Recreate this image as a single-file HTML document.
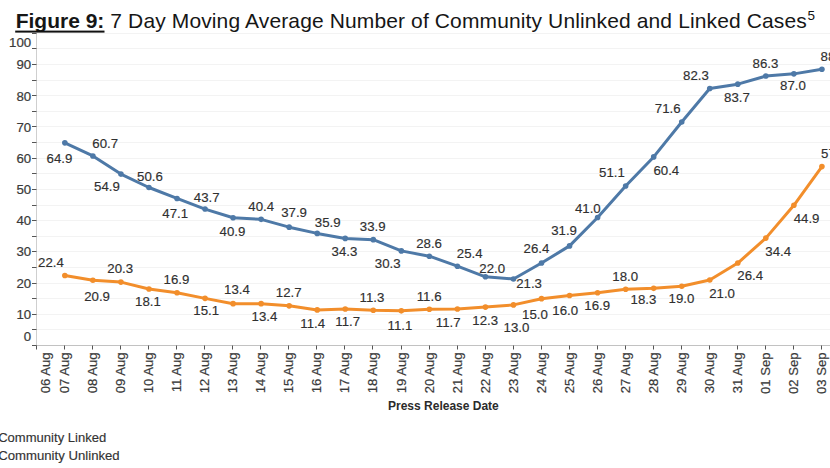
<!DOCTYPE html>
<html><head><meta charset="utf-8"><style>
html,body{margin:0;padding:0;background:#fff;overflow:hidden;}
svg{display:block;font-family:"Liberation Sans",sans-serif;}
.ax{font-size:12.5px;fill:#3a3a3a;stroke:#3a3a3a;stroke-width:0.2px;}
.dl{font-size:12.5px;fill:#303030;stroke:#303030;stroke-width:0.15px;}
.ti{font-size:21px;fill:#161616;}
.sup{font-size:13.5px;fill:#111;}
.at{font-size:12.5px;font-weight:bold;fill:#2b2b2b;}
.lg{font-size:12.5px;fill:#333;stroke:#333;stroke-width:0.15px;}
</style></head><body>
<svg width="830" height="468" viewBox="0 0 830 468">
<line x1="37" y1="329.5" x2="830" y2="329.5" stroke="#f3f3f3" stroke-width="1"/>
<line x1="37" y1="314.5" x2="830" y2="314.5" stroke="#f3f3f3" stroke-width="1"/>
<line x1="37" y1="298.5" x2="830" y2="298.5" stroke="#f3f3f3" stroke-width="1"/>
<line x1="37" y1="283.5" x2="830" y2="283.5" stroke="#f3f3f3" stroke-width="1"/>
<line x1="37" y1="267.5" x2="830" y2="267.5" stroke="#f3f3f3" stroke-width="1"/>
<line x1="37" y1="251.5" x2="830" y2="251.5" stroke="#f3f3f3" stroke-width="1"/>
<line x1="37" y1="236.5" x2="830" y2="236.5" stroke="#f3f3f3" stroke-width="1"/>
<line x1="37" y1="220.5" x2="830" y2="220.5" stroke="#f3f3f3" stroke-width="1"/>
<line x1="37" y1="205.5" x2="830" y2="205.5" stroke="#f3f3f3" stroke-width="1"/>
<line x1="37" y1="189.5" x2="830" y2="189.5" stroke="#f3f3f3" stroke-width="1"/>
<line x1="37" y1="173.5" x2="830" y2="173.5" stroke="#f3f3f3" stroke-width="1"/>
<line x1="37" y1="158.5" x2="830" y2="158.5" stroke="#f3f3f3" stroke-width="1"/>
<line x1="37" y1="142.5" x2="830" y2="142.5" stroke="#f3f3f3" stroke-width="1"/>
<line x1="37" y1="126.5" x2="830" y2="126.5" stroke="#f3f3f3" stroke-width="1"/>
<line x1="37" y1="111.5" x2="830" y2="111.5" stroke="#f3f3f3" stroke-width="1"/>
<line x1="37" y1="95.5" x2="830" y2="95.5" stroke="#f3f3f3" stroke-width="1"/>
<line x1="37" y1="80.5" x2="830" y2="80.5" stroke="#f3f3f3" stroke-width="1"/>
<line x1="37" y1="64.5" x2="830" y2="64.5" stroke="#f3f3f3" stroke-width="1"/>
<line x1="37" y1="48.5" x2="830" y2="48.5" stroke="#f3f3f3" stroke-width="1"/>
<line x1="37" y1="33.5" x2="830" y2="33.5" stroke="#f3f3f3" stroke-width="1"/>
<line x1="36.5" y1="33" x2="36.5" y2="349" stroke="#cfcfcf" stroke-width="1"/>
<line x1="32" y1="345.5" x2="830" y2="345.5" stroke="#c2c2c2" stroke-width="1"/>
<line x1="32" y1="345.5" x2="36.5" y2="345.5" stroke="#555" stroke-width="1"/>
<line x1="32" y1="329.5" x2="36.5" y2="329.5" stroke="#555" stroke-width="1"/>
<line x1="32" y1="314.5" x2="36.5" y2="314.5" stroke="#555" stroke-width="1"/>
<line x1="32" y1="298.5" x2="36.5" y2="298.5" stroke="#555" stroke-width="1"/>
<line x1="32" y1="283.5" x2="36.5" y2="283.5" stroke="#555" stroke-width="1"/>
<line x1="32" y1="267.5" x2="36.5" y2="267.5" stroke="#555" stroke-width="1"/>
<line x1="32" y1="251.5" x2="36.5" y2="251.5" stroke="#555" stroke-width="1"/>
<line x1="32" y1="236.5" x2="36.5" y2="236.5" stroke="#555" stroke-width="1"/>
<line x1="32" y1="220.5" x2="36.5" y2="220.5" stroke="#555" stroke-width="1"/>
<line x1="32" y1="205.5" x2="36.5" y2="205.5" stroke="#555" stroke-width="1"/>
<line x1="32" y1="189.5" x2="36.5" y2="189.5" stroke="#555" stroke-width="1"/>
<line x1="32" y1="173.5" x2="36.5" y2="173.5" stroke="#555" stroke-width="1"/>
<line x1="32" y1="158.5" x2="36.5" y2="158.5" stroke="#555" stroke-width="1"/>
<line x1="32" y1="142.5" x2="36.5" y2="142.5" stroke="#555" stroke-width="1"/>
<line x1="32" y1="126.5" x2="36.5" y2="126.5" stroke="#555" stroke-width="1"/>
<line x1="32" y1="111.5" x2="36.5" y2="111.5" stroke="#555" stroke-width="1"/>
<line x1="32" y1="95.5" x2="36.5" y2="95.5" stroke="#555" stroke-width="1"/>
<line x1="32" y1="80.5" x2="36.5" y2="80.5" stroke="#555" stroke-width="1"/>
<line x1="32" y1="64.5" x2="36.5" y2="64.5" stroke="#555" stroke-width="1"/>
<line x1="32" y1="48.5" x2="36.5" y2="48.5" stroke="#555" stroke-width="1"/>
<line x1="32" y1="33.5" x2="36.5" y2="33.5" stroke="#555" stroke-width="1"/>
<text transform="translate(31.2,46.7) scale(1.06,1)" text-anchor="end" class="ax">100</text>
<text transform="translate(31.2,68.5) scale(1.06,1)" text-anchor="end" class="ax">90</text>
<text transform="translate(31.2,100.5) scale(1.06,1)" text-anchor="end" class="ax">80</text>
<text transform="translate(31.2,131.6) scale(1.06,1)" text-anchor="end" class="ax">70</text>
<text transform="translate(31.2,162.8) scale(1.06,1)" text-anchor="end" class="ax">60</text>
<text transform="translate(31.2,194.0) scale(1.06,1)" text-anchor="end" class="ax">50</text>
<text transform="translate(31.2,225.2) scale(1.06,1)" text-anchor="end" class="ax">40</text>
<text transform="translate(31.2,256.4) scale(1.06,1)" text-anchor="end" class="ax">30</text>
<text transform="translate(31.2,287.6) scale(1.06,1)" text-anchor="end" class="ax">20</text>
<text transform="translate(31.2,319.0) scale(1.06,1)" text-anchor="end" class="ax">10</text>
<text transform="translate(31.2,340.8) scale(1.06,1)" text-anchor="end" class="ax">0</text>
<line x1="36.5" y1="345.5" x2="36.5" y2="349.5" stroke="#555" stroke-width="1"/>
<text transform="translate(49.9,352.6) rotate(-90) scale(1.045,1)" text-anchor="end" class="ax">06 Aug</text>
<line x1="64.5" y1="345.5" x2="64.5" y2="349.5" stroke="#555" stroke-width="1"/>
<text transform="translate(69.1,352.6) rotate(-90) scale(1.045,1)" text-anchor="end" class="ax">07 Aug</text>
<line x1="92.5" y1="345.5" x2="92.5" y2="349.5" stroke="#555" stroke-width="1"/>
<text transform="translate(97.1,352.6) rotate(-90) scale(1.045,1)" text-anchor="end" class="ax">08 Aug</text>
<line x1="120.5" y1="345.5" x2="120.5" y2="349.5" stroke="#555" stroke-width="1"/>
<text transform="translate(125.1,352.6) rotate(-90) scale(1.045,1)" text-anchor="end" class="ax">09 Aug</text>
<line x1="148.5" y1="345.5" x2="148.5" y2="349.5" stroke="#555" stroke-width="1"/>
<text transform="translate(153.1,352.6) rotate(-90) scale(1.045,1)" text-anchor="end" class="ax">10 Aug</text>
<line x1="176.5" y1="345.5" x2="176.5" y2="349.5" stroke="#555" stroke-width="1"/>
<text transform="translate(181.1,352.6) rotate(-90) scale(1.045,1)" text-anchor="end" class="ax">11 Aug</text>
<line x1="204.5" y1="345.5" x2="204.5" y2="349.5" stroke="#555" stroke-width="1"/>
<text transform="translate(209.1,352.6) rotate(-90) scale(1.045,1)" text-anchor="end" class="ax">12 Aug</text>
<line x1="232.5" y1="345.5" x2="232.5" y2="349.5" stroke="#555" stroke-width="1"/>
<text transform="translate(237.1,352.6) rotate(-90) scale(1.045,1)" text-anchor="end" class="ax">13 Aug</text>
<line x1="260.5" y1="345.5" x2="260.5" y2="349.5" stroke="#555" stroke-width="1"/>
<text transform="translate(265.1,352.6) rotate(-90) scale(1.045,1)" text-anchor="end" class="ax">14 Aug</text>
<line x1="288.5" y1="345.5" x2="288.5" y2="349.5" stroke="#555" stroke-width="1"/>
<text transform="translate(293.1,352.6) rotate(-90) scale(1.045,1)" text-anchor="end" class="ax">15 Aug</text>
<line x1="316.5" y1="345.5" x2="316.5" y2="349.5" stroke="#555" stroke-width="1"/>
<text transform="translate(321.1,352.6) rotate(-90) scale(1.045,1)" text-anchor="end" class="ax">16 Aug</text>
<line x1="344.5" y1="345.5" x2="344.5" y2="349.5" stroke="#555" stroke-width="1"/>
<text transform="translate(349.1,352.6) rotate(-90) scale(1.045,1)" text-anchor="end" class="ax">17 Aug</text>
<line x1="372.5" y1="345.5" x2="372.5" y2="349.5" stroke="#555" stroke-width="1"/>
<text transform="translate(377.1,352.6) rotate(-90) scale(1.045,1)" text-anchor="end" class="ax">18 Aug</text>
<line x1="401.5" y1="345.5" x2="401.5" y2="349.5" stroke="#555" stroke-width="1"/>
<text transform="translate(406.1,352.6) rotate(-90) scale(1.045,1)" text-anchor="end" class="ax">19 Aug</text>
<line x1="429.5" y1="345.5" x2="429.5" y2="349.5" stroke="#555" stroke-width="1"/>
<text transform="translate(434.1,352.6) rotate(-90) scale(1.045,1)" text-anchor="end" class="ax">20 Aug</text>
<line x1="457.5" y1="345.5" x2="457.5" y2="349.5" stroke="#555" stroke-width="1"/>
<text transform="translate(462.1,352.6) rotate(-90) scale(1.045,1)" text-anchor="end" class="ax">21 Aug</text>
<line x1="485.5" y1="345.5" x2="485.5" y2="349.5" stroke="#555" stroke-width="1"/>
<text transform="translate(490.1,352.6) rotate(-90) scale(1.045,1)" text-anchor="end" class="ax">22 Aug</text>
<line x1="513.5" y1="345.5" x2="513.5" y2="349.5" stroke="#555" stroke-width="1"/>
<text transform="translate(518.1,352.6) rotate(-90) scale(1.045,1)" text-anchor="end" class="ax">23 Aug</text>
<line x1="541.5" y1="345.5" x2="541.5" y2="349.5" stroke="#555" stroke-width="1"/>
<text transform="translate(546.1,352.6) rotate(-90) scale(1.045,1)" text-anchor="end" class="ax">24 Aug</text>
<line x1="569.5" y1="345.5" x2="569.5" y2="349.5" stroke="#555" stroke-width="1"/>
<text transform="translate(574.1,352.6) rotate(-90) scale(1.045,1)" text-anchor="end" class="ax">25 Aug</text>
<line x1="597.5" y1="345.5" x2="597.5" y2="349.5" stroke="#555" stroke-width="1"/>
<text transform="translate(602.1,352.6) rotate(-90) scale(1.045,1)" text-anchor="end" class="ax">26 Aug</text>
<line x1="625.5" y1="345.5" x2="625.5" y2="349.5" stroke="#555" stroke-width="1"/>
<text transform="translate(630.1,352.6) rotate(-90) scale(1.045,1)" text-anchor="end" class="ax">27 Aug</text>
<line x1="653.5" y1="345.5" x2="653.5" y2="349.5" stroke="#555" stroke-width="1"/>
<text transform="translate(658.1,352.6) rotate(-90) scale(1.045,1)" text-anchor="end" class="ax">28 Aug</text>
<line x1="681.5" y1="345.5" x2="681.5" y2="349.5" stroke="#555" stroke-width="1"/>
<text transform="translate(686.1,352.6) rotate(-90) scale(1.045,1)" text-anchor="end" class="ax">29 Aug</text>
<line x1="709.5" y1="345.5" x2="709.5" y2="349.5" stroke="#555" stroke-width="1"/>
<text transform="translate(714.1,352.6) rotate(-90) scale(1.045,1)" text-anchor="end" class="ax">30 Aug</text>
<line x1="737.5" y1="345.5" x2="737.5" y2="349.5" stroke="#555" stroke-width="1"/>
<text transform="translate(742.1,352.6) rotate(-90) scale(1.045,1)" text-anchor="end" class="ax">31 Aug</text>
<line x1="765.5" y1="345.5" x2="765.5" y2="349.5" stroke="#555" stroke-width="1"/>
<text transform="translate(770.1,352.6) rotate(-90) scale(1.045,1)" text-anchor="end" class="ax">01 Sep</text>
<line x1="793.5" y1="345.5" x2="793.5" y2="349.5" stroke="#555" stroke-width="1"/>
<text transform="translate(798.1,352.6) rotate(-90) scale(1.045,1)" text-anchor="end" class="ax">02 Sep</text>
<line x1="821.5" y1="345.5" x2="821.5" y2="349.5" stroke="#555" stroke-width="1"/>
<text transform="translate(826.1,352.6) rotate(-90) scale(1.045,1)" text-anchor="end" class="ax">03 Sep</text>
<polyline points="64.84,275.56 92.88,280.25 120.92,282.12 148.96,288.99 177.00,292.73 205.04,298.35 233.08,303.66 261.12,303.66 289.16,305.85 317.20,309.91 345.24,308.97 373.28,310.22 401.32,310.84 429.36,309.28 457.40,308.97 485.44,307.10 513.48,304.91 541.52,298.67 569.56,295.54 597.60,292.73 625.64,289.30 653.68,288.36 681.72,286.18 709.76,279.93 737.80,263.07 765.84,238.10 793.88,205.31 821.92,166.60" fill="none" stroke="#f28e2b" stroke-width="3" stroke-linejoin="round" stroke-linecap="round"/>
<circle cx="64.84" cy="275.56" r="2.8" fill="#f28e2b"/>
<circle cx="92.88" cy="280.25" r="2.8" fill="#f28e2b"/>
<circle cx="120.92" cy="282.12" r="2.8" fill="#f28e2b"/>
<circle cx="148.96" cy="288.99" r="2.8" fill="#f28e2b"/>
<circle cx="177.00" cy="292.73" r="2.8" fill="#f28e2b"/>
<circle cx="205.04" cy="298.35" r="2.8" fill="#f28e2b"/>
<circle cx="233.08" cy="303.66" r="2.8" fill="#f28e2b"/>
<circle cx="261.12" cy="303.66" r="2.8" fill="#f28e2b"/>
<circle cx="289.16" cy="305.85" r="2.8" fill="#f28e2b"/>
<circle cx="317.20" cy="309.91" r="2.8" fill="#f28e2b"/>
<circle cx="345.24" cy="308.97" r="2.8" fill="#f28e2b"/>
<circle cx="373.28" cy="310.22" r="2.8" fill="#f28e2b"/>
<circle cx="401.32" cy="310.84" r="2.8" fill="#f28e2b"/>
<circle cx="429.36" cy="309.28" r="2.8" fill="#f28e2b"/>
<circle cx="457.40" cy="308.97" r="2.8" fill="#f28e2b"/>
<circle cx="485.44" cy="307.10" r="2.8" fill="#f28e2b"/>
<circle cx="513.48" cy="304.91" r="2.8" fill="#f28e2b"/>
<circle cx="541.52" cy="298.67" r="2.8" fill="#f28e2b"/>
<circle cx="569.56" cy="295.54" r="2.8" fill="#f28e2b"/>
<circle cx="597.60" cy="292.73" r="2.8" fill="#f28e2b"/>
<circle cx="625.64" cy="289.30" r="2.8" fill="#f28e2b"/>
<circle cx="653.68" cy="288.36" r="2.8" fill="#f28e2b"/>
<circle cx="681.72" cy="286.18" r="2.8" fill="#f28e2b"/>
<circle cx="709.76" cy="279.93" r="2.8" fill="#f28e2b"/>
<circle cx="737.80" cy="263.07" r="2.8" fill="#f28e2b"/>
<circle cx="765.84" cy="238.10" r="2.8" fill="#f28e2b"/>
<circle cx="793.88" cy="205.31" r="2.8" fill="#f28e2b"/>
<circle cx="821.92" cy="166.60" r="2.8" fill="#f28e2b"/>
<polyline points="64.84,142.87 92.88,155.98 120.92,174.09 148.96,187.52 177.00,198.44 205.04,209.06 233.08,217.80 261.12,219.36 289.16,227.17 317.20,233.41 345.24,238.41 373.28,239.66 401.32,250.90 429.36,256.21 457.40,266.20 485.44,276.81 513.48,279.00 541.52,263.07 569.56,245.90 597.60,217.49 625.64,185.96 653.68,156.92 681.72,121.95 709.76,88.54 737.80,84.17 765.84,76.05 793.88,73.87 821.92,69.19" fill="none" stroke="#4e79a7" stroke-width="3" stroke-linejoin="round" stroke-linecap="round"/>
<circle cx="64.84" cy="142.87" r="2.8" fill="#4e79a7"/>
<circle cx="92.88" cy="155.98" r="2.8" fill="#4e79a7"/>
<circle cx="120.92" cy="174.09" r="2.8" fill="#4e79a7"/>
<circle cx="148.96" cy="187.52" r="2.8" fill="#4e79a7"/>
<circle cx="177.00" cy="198.44" r="2.8" fill="#4e79a7"/>
<circle cx="205.04" cy="209.06" r="2.8" fill="#4e79a7"/>
<circle cx="233.08" cy="217.80" r="2.8" fill="#4e79a7"/>
<circle cx="261.12" cy="219.36" r="2.8" fill="#4e79a7"/>
<circle cx="289.16" cy="227.17" r="2.8" fill="#4e79a7"/>
<circle cx="317.20" cy="233.41" r="2.8" fill="#4e79a7"/>
<circle cx="345.24" cy="238.41" r="2.8" fill="#4e79a7"/>
<circle cx="373.28" cy="239.66" r="2.8" fill="#4e79a7"/>
<circle cx="401.32" cy="250.90" r="2.8" fill="#4e79a7"/>
<circle cx="429.36" cy="256.21" r="2.8" fill="#4e79a7"/>
<circle cx="457.40" cy="266.20" r="2.8" fill="#4e79a7"/>
<circle cx="485.44" cy="276.81" r="2.8" fill="#4e79a7"/>
<circle cx="513.48" cy="279.00" r="2.8" fill="#4e79a7"/>
<circle cx="541.52" cy="263.07" r="2.8" fill="#4e79a7"/>
<circle cx="569.56" cy="245.90" r="2.8" fill="#4e79a7"/>
<circle cx="597.60" cy="217.49" r="2.8" fill="#4e79a7"/>
<circle cx="625.64" cy="185.96" r="2.8" fill="#4e79a7"/>
<circle cx="653.68" cy="156.92" r="2.8" fill="#4e79a7"/>
<circle cx="681.72" cy="121.95" r="2.8" fill="#4e79a7"/>
<circle cx="709.76" cy="88.54" r="2.8" fill="#4e79a7"/>
<circle cx="737.80" cy="84.17" r="2.8" fill="#4e79a7"/>
<circle cx="765.84" cy="76.05" r="2.8" fill="#4e79a7"/>
<circle cx="793.88" cy="73.87" r="2.8" fill="#4e79a7"/>
<circle cx="821.92" cy="69.19" r="2.8" fill="#4e79a7"/>
<text transform="translate(59.5,162.60) scale(1.06,1)" text-anchor="middle" class="dl">64.9</text>
<text transform="translate(105.25,147.50) scale(1.06,1)" text-anchor="middle" class="dl">60.7</text>
<text transform="translate(107,191.25) scale(1.06,1)" text-anchor="middle" class="dl">54.9</text>
<text transform="translate(150,180.50) scale(1.06,1)" text-anchor="middle" class="dl">50.6</text>
<text transform="translate(175.25,217.50) scale(1.06,1)" text-anchor="middle" class="dl">47.1</text>
<text transform="translate(206.75,202.00) scale(1.06,1)" text-anchor="middle" class="dl">43.7</text>
<text transform="translate(232.5,235.50) scale(1.06,1)" text-anchor="middle" class="dl">40.9</text>
<text transform="translate(261.25,210.50) scale(1.06,1)" text-anchor="middle" class="dl">40.4</text>
<text transform="translate(294.1,217.00) scale(1.06,1)" text-anchor="middle" class="dl">37.9</text>
<text transform="translate(327.75,227.00) scale(1.06,1)" text-anchor="middle" class="dl">35.9</text>
<text transform="translate(344.4,255.50) scale(1.06,1)" text-anchor="middle" class="dl">34.3</text>
<text transform="translate(372.75,231.25) scale(1.06,1)" text-anchor="middle" class="dl">33.9</text>
<text transform="translate(387.75,268.00) scale(1.06,1)" text-anchor="middle" class="dl">30.3</text>
<text transform="translate(429.1,247.50) scale(1.06,1)" text-anchor="middle" class="dl">28.6</text>
<text transform="translate(469.75,257.50) scale(1.06,1)" text-anchor="middle" class="dl">25.4</text>
<text transform="translate(492.25,272.50) scale(1.06,1)" text-anchor="middle" class="dl">22.0</text>
<text transform="translate(529.1,288.00) scale(1.06,1)" text-anchor="middle" class="dl">21.3</text>
<text transform="translate(536.5,252.50) scale(1.06,1)" text-anchor="middle" class="dl">26.4</text>
<text transform="translate(564.1,235.00) scale(1.06,1)" text-anchor="middle" class="dl">31.9</text>
<text transform="translate(587.8,213.00) scale(1.06,1)" text-anchor="middle" class="dl">41.0</text>
<text transform="translate(612,177.30) scale(1.06,1)" text-anchor="middle" class="dl">51.1</text>
<text transform="translate(666.3,175.10) scale(1.06,1)" text-anchor="middle" class="dl">60.4</text>
<text transform="translate(667.75,113.25) scale(1.06,1)" text-anchor="middle" class="dl">71.6</text>
<text transform="translate(695.9,80.25) scale(1.06,1)" text-anchor="middle" class="dl">82.3</text>
<text transform="translate(737,101.50) scale(1.06,1)" text-anchor="middle" class="dl">83.7</text>
<text transform="translate(765.4,67.50) scale(1.06,1)" text-anchor="middle" class="dl">86.3</text>
<text transform="translate(792.9,90.00) scale(1.06,1)" text-anchor="middle" class="dl">87.0</text>
<text transform="translate(833.5,61.25) scale(1.06,1)" text-anchor="middle" class="dl">88.5</text>
<text transform="translate(51,266.75) scale(1.06,1)" text-anchor="middle" class="dl">22.4</text>
<text transform="translate(97.1,301.25) scale(1.06,1)" text-anchor="middle" class="dl">20.9</text>
<text transform="translate(120.25,273.25) scale(1.06,1)" text-anchor="middle" class="dl">20.3</text>
<text transform="translate(148,305.50) scale(1.06,1)" text-anchor="middle" class="dl">18.1</text>
<text transform="translate(176.5,284.25) scale(1.06,1)" text-anchor="middle" class="dl">16.9</text>
<text transform="translate(206.25,314.50) scale(1.06,1)" text-anchor="middle" class="dl">15.1</text>
<text transform="translate(237,293.75) scale(1.06,1)" text-anchor="middle" class="dl">13.4</text>
<text transform="translate(264.4,320.50) scale(1.06,1)" text-anchor="middle" class="dl">13.4</text>
<text transform="translate(288.75,297.00) scale(1.06,1)" text-anchor="middle" class="dl">12.7</text>
<text transform="translate(312.75,327.50) scale(1.06,1)" text-anchor="middle" class="dl">11.4</text>
<text transform="translate(347.75,326.25) scale(1.06,1)" text-anchor="middle" class="dl">11.7</text>
<text transform="translate(371.9,302.00) scale(1.06,1)" text-anchor="middle" class="dl">11.3</text>
<text transform="translate(400,330.00) scale(1.06,1)" text-anchor="middle" class="dl">11.1</text>
<text transform="translate(429.1,301.00) scale(1.06,1)" text-anchor="middle" class="dl">11.6</text>
<text transform="translate(448.25,326.75) scale(1.06,1)" text-anchor="middle" class="dl">11.7</text>
<text transform="translate(485.25,324.50) scale(1.06,1)" text-anchor="middle" class="dl">12.3</text>
<text transform="translate(516.5,331.75) scale(1.06,1)" text-anchor="middle" class="dl">13.0</text>
<text transform="translate(535,318.75) scale(1.06,1)" text-anchor="middle" class="dl">15.0</text>
<text transform="translate(565.25,315.00) scale(1.06,1)" text-anchor="middle" class="dl">16.0</text>
<text transform="translate(597.25,309.50) scale(1.06,1)" text-anchor="middle" class="dl">16.9</text>
<text transform="translate(625.25,280.75) scale(1.06,1)" text-anchor="middle" class="dl">18.0</text>
<text transform="translate(643.4,304.25) scale(1.06,1)" text-anchor="middle" class="dl">18.3</text>
<text transform="translate(681.5,303.25) scale(1.06,1)" text-anchor="middle" class="dl">19.0</text>
<text transform="translate(722.1,297.50) scale(1.06,1)" text-anchor="middle" class="dl">21.0</text>
<text transform="translate(750.25,279.50) scale(1.06,1)" text-anchor="middle" class="dl">26.4</text>
<text transform="translate(778.25,255.70) scale(1.06,1)" text-anchor="middle" class="dl">34.4</text>
<text transform="translate(806.6,223.40) scale(1.06,1)" text-anchor="middle" class="dl">44.9</text>
<text transform="translate(834,158.40) scale(1.06,1)" text-anchor="middle" class="dl">57.3</text>
<text x="15.7" y="28.3" class="ti"><tspan font-weight="bold">Figure 9:</tspan><tspan letter-spacing="0.125"> 7 Day Moving Average Number of Community Unlinked and Linked Cases</tspan></text>
<text x="807.6" y="20.1" class="sup">5</text>
<rect x="15.2" y="30.6" width="89.3" height="2" fill="#111"/>
<text x="388" y="410.3" textLength="110.8" lengthAdjust="spacingAndGlyphs" class="at">Press Release Date</text>
<text x="-1.8" y="441.9" textLength="108" lengthAdjust="spacingAndGlyphs" class="lg">Community Linked</text>
<text x="-1.8" y="459.5" textLength="121.5" lengthAdjust="spacingAndGlyphs" class="lg">Community Unlinked</text>
</svg>
</body></html>
